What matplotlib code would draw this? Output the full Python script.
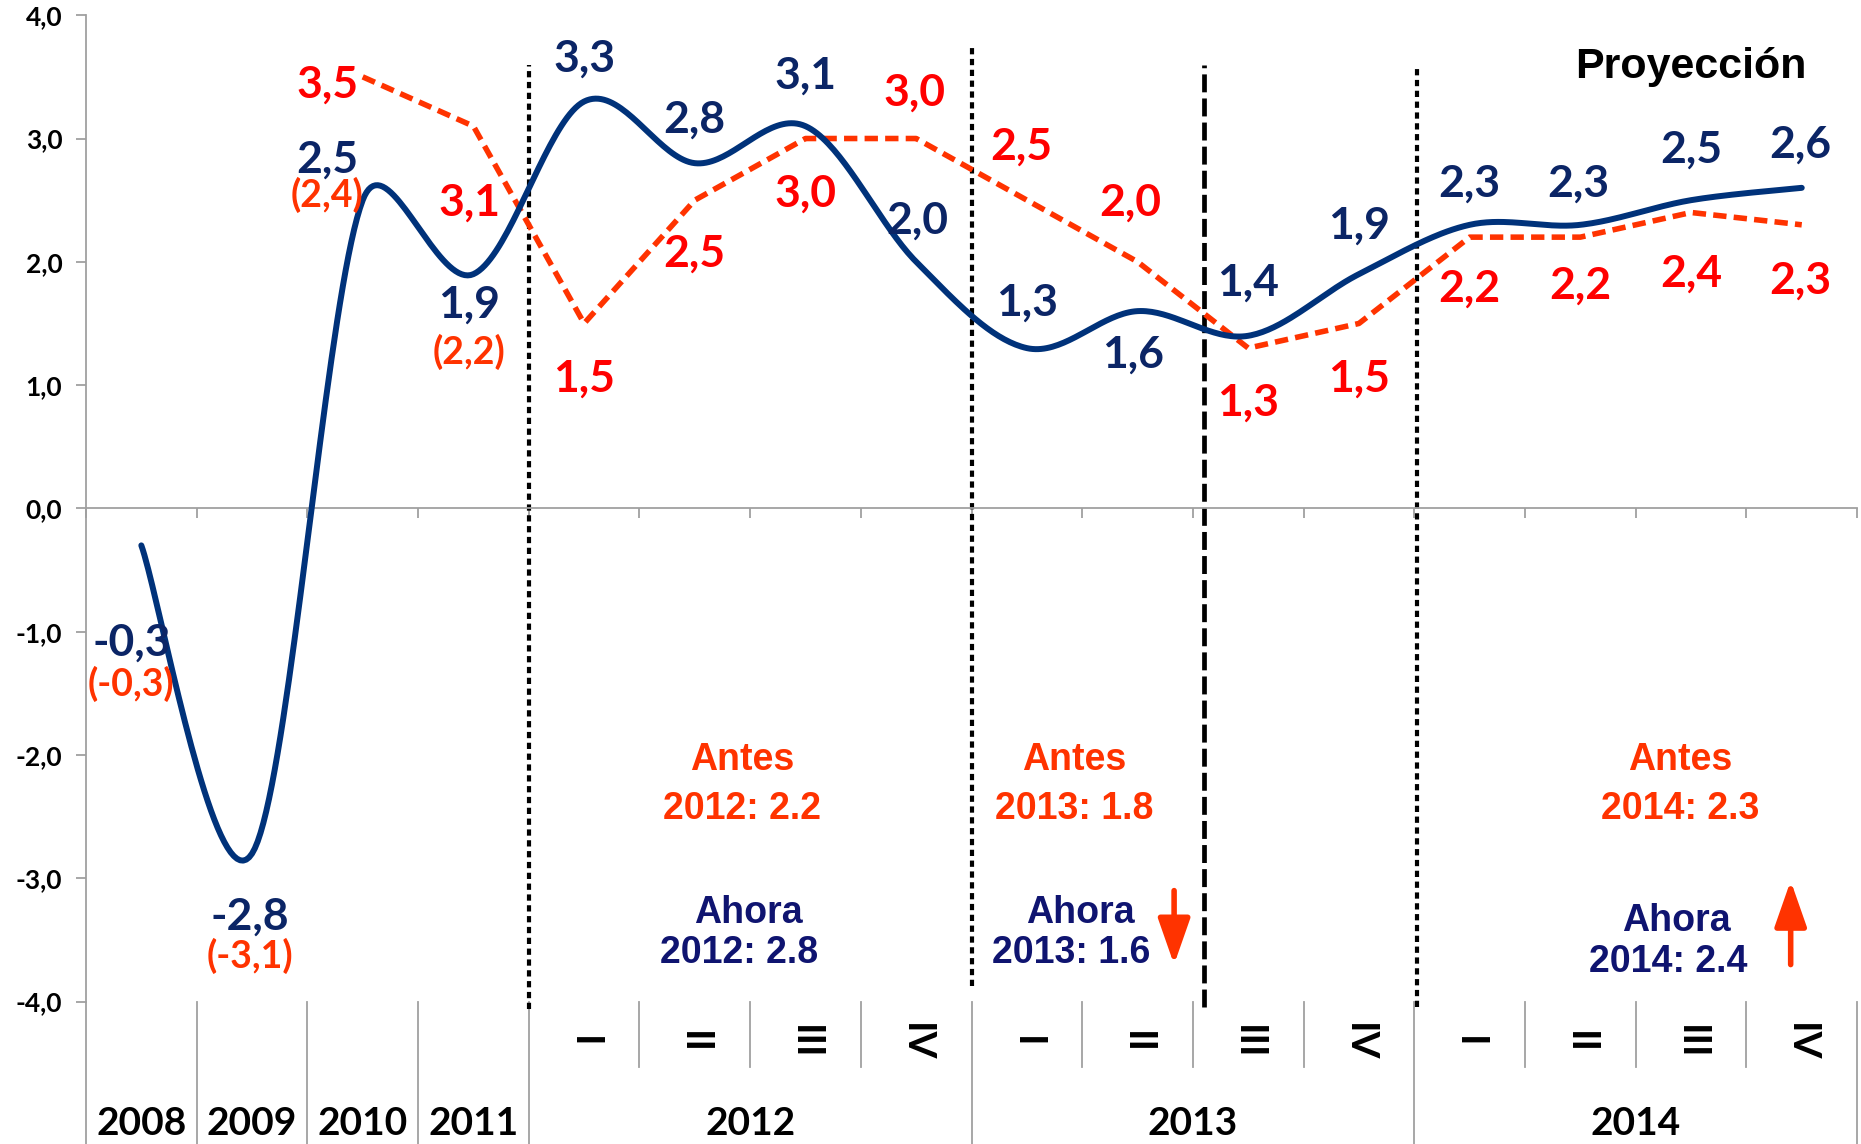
import numpy as np
import matplotlib
matplotlib.use("Agg")
import matplotlib.pyplot as plt

# Data: GDP growth, now (blue) vs previous projection (red)
periods = ["2008", "2009", "2010", "2011",
           "I", "II", "III", "IV", "I", "II", "III", "IV", "I", "II", "III", "IV"]
years = ["2008", "2009", "2010", "2011", "2012", "2013", "2014"]
ahora = [-0.3, -2.8, 2.5, 1.9, 3.3, 2.8, 3.1, 2.0, 1.3, 1.6, 1.4, 1.9, 2.3, 2.3, 2.5, 2.6]
antes = [None, None, 3.5, 3.1, 1.5, 2.5, 3.0, 3.0, 2.5, 2.0, 1.3, 1.5, 2.2, 2.2, 2.4, 2.3]
antes_anual = [-0.3, -3.1, 2.4, 2.2]   # previous estimates shown in brackets
resumen_antes = ["2012: 2.2", "2013: 1.8", "2014: 2.3"]
resumen_ahora = ["2012: 2.8", "2013: 1.6", "2014: 2.4"]

# label offsets (data units) relative to each point
blue_dx = [-0.09, -0.02, -0.32, -0.04, 0, 0, 0, 0.01, 0, -0.04, 0, 0, 0, -0.02, 0, -0.01]
blue_dy = [-0.79, -0.51, 0.33, -0.25, 0.35, 0.35, 0.41, 0.33, 0.37, -0.35, 0.43, 0.39,
           0.33, 0.33, 0.41, 0.35]
red_dx = [0, 0, -0.32, -0.04, 0, 0, 0, -0.02, -0.05, -0.07, 0, 0, 0, 0, 0, -0.01]
red_dy = [0, 0, -0.06, -0.62, -0.45, -0.43, -0.45, 0.37, 0.43, 0.48, -0.44, -0.45,
          -0.42, -0.39, -0.50, -0.45]
paren_dy = [-1.12, -0.83, 0.04, -0.63]

NAVY_LINE = "#00327A"
NAVY = "#0B2566"
NAVY2 = "#0F1470"
RED = "#FF0000"
ORANGE = "#FF3300"
GRAY = "#A0A0A0"
LABEL_FONT = ["Lato", "DejaVu Sans"]
ARIAL = ["Liberation Sans", "DejaVu Sans"]
SX, SY = 110.7, 123.3   # pixels per data unit, used for the smoothing


def smooth(xs, ys, n=40):
    # Bezier smoothing like the spreadsheet's "smoothed line"
    pts = np.column_stack([np.asarray(xs) * SX, np.asarray(ys) * SY]).astype(float)
    out = []
    for i in range(len(pts) - 1):
        p0 = pts[i - 1] if i > 0 else pts[i]
        p1 = pts[i]
        p2 = pts[i + 1]
        p3 = pts[i + 2] if i + 2 < len(pts) else pts[i + 1]
        half = np.linalg.norm(p2 - p1) / 2
        t1 = (p2 - p0) / 6
        t2 = (p3 - p1) / 6
        if np.linalg.norm(t1) > half:
            t1 = t1 * half / np.linalg.norm(t1)
        if np.linalg.norm(t2) > half:
            t2 = t2 * half / np.linalg.norm(t2)
        c1 = p1 + t1
        c2 = p2 - t2
        t = np.linspace(0, 1, n)[:, None]
        seg = (1 - t) ** 3 * p1 + 3 * (1 - t) ** 2 * t * c1 + 3 * (1 - t) * t ** 2 * c2 + t ** 3 * p2
        out.append(seg if i == 0 else seg[1:])
    out = np.vstack(out)
    return out[:, 0] / SX, out[:, 1] / SY


fig = plt.figure(figsize=(18.61, 11.44), dpi=100)
ax = fig.add_axes([0.0462, 0.1245, 0.9517, 0.8622])
x = np.arange(len(periods))
ax.set_xlim(-0.5, len(periods) - 0.5)
ax.set_ylim(-4, 4)

# axes styling
for s in ["top", "right"]:
    ax.spines[s].set_visible(False)
ax.spines["left"].set_color(GRAY)
ax.spines["left"].set_linewidth(1.3)
ax.spines["bottom"].set_position(("data", 0))
ax.spines["bottom"].set_color(GRAY)
ax.spines["bottom"].set_linewidth(1.3)
ax.set_xticks(np.arange(-0.5, len(periods), 1))
ax.set_xticklabels([])
ax.tick_params(axis="x", direction="out", length=7, width=1.3, color=GRAY)
yt = np.arange(-4, 5, 1)
ax.set_yticks(yt)
ax.set_yticklabels([f"{v:.1f}".replace(".", ",") for v in yt],
                   fontfamily=LABEL_FONT, fontweight="bold", fontsize=19)
ax.tick_params(axis="y", direction="out", length=7, width=1.3, color=GRAY, pad=10)

# category separators below the plot
trans = ax.get_xaxis_transform()
for b in np.arange(-0.5, len(periods), 1):
    full = b < 4 or b in (7.5, 11.5, 15.5)
    ax.plot([b, b], [0, -0.1444 if full else -0.0663], transform=trans,
            color=GRAY, lw=1.3, clip_on=False)
for i, lab in enumerate(periods):
    if i < 4:
        ax.text(i, -0.124, lab, transform=trans, ha="center", va="center",
                fontfamily=LABEL_FONT, fontweight="bold", fontsize=28)
    else:
        ax.text(i, -0.041, lab, transform=trans, ha="center", va="center",
                rotation=-90, fontfamily=LABEL_FONT, fontweight="bold", fontsize=28)
for j, yr in enumerate(years[4:]):
    ax.text(5.5 + 4 * j, -0.124, yr, transform=trans, ha="center", va="center",
            fontfamily=LABEL_FONT, fontweight="bold", fontsize=28)

# vertical dividers
ax.plot([3.5, 3.5], [-4.06, 3.6], color="black", lw=3.0, dashes=(1.5, 1.1), clip_on=False)
ax.plot([7.5, 7.5], [-3.87, 3.76], color="black", lw=3.0, dashes=(1.5, 1.1), clip_on=False)
ax.plot([9.6, 9.6], [-4.04, 3.6], color="black", lw=3.4, dashes=(3.8, 1.3), clip_on=False)
ax.plot([11.52, 11.52], [-4.04, 3.6], color="black", lw=3.0, dashes=(1.5, 1.1), clip_on=False)

# series
cx, cy = smooth(x, ahora)
ax.plot(cx, cy, color=NAVY_LINE, lw=4.3, solid_capstyle="round", zorder=4)
xa = [i for i, v in enumerate(antes) if v is not None]
ya = [v for v in antes if v is not None]
ax.plot(xa, ya, color=ORANGE, lw=4.0, dashes=(2.4, 1.3), zorder=3)

# data labels
for i, v in enumerate(ahora):
    ax.text(i + blue_dx[i], v + blue_dy[i], f"{v:.1f}".replace(".", ","), color=NAVY,
            ha="center", va="center", fontfamily=LABEL_FONT, fontweight="bold", fontsize=32, zorder=5)
for i, v in enumerate(antes):
    if v is None:
        continue
    ax.text(i + red_dx[i], v + red_dy[i], f"{v:.1f}".replace(".", ","), color=RED,
            ha="center", va="center", fontfamily=LABEL_FONT, fontweight="bold", fontsize=32, zorder=5)
for i, v in enumerate(antes_anual):
    ax.text(i + blue_dx[i], ahora[i] + paren_dy[i], "(" + f"{v:.1f}".replace(".", ",") + ")",
            color=ORANGE, ha="center", va="center", fontfamily=LABEL_FONT, fontweight="bold",
            fontsize=27, zorder=5)

ax.text(14.0, 3.58, "Proyección", ha="center", va="center", fontfamily=ARIAL,
        fontweight="bold", fontsize=31)

# before / now summaries
for j, xc in enumerate([5.43, 8.43, 13.9]):
    ax.text(xc, -2.04, "Antes", color=ORANGE, ha="center", va="center",
            fontfamily=ARIAL, fontweight="bold", fontsize=27)
    ax.text(xc, -2.44, resumen_antes[j], color=ORANGE, ha="center", va="center",
            fontfamily=ARIAL, fontweight="bold", fontsize=27)
ahora_y = [-3.28, -3.28, -3.35]
for j, xc in enumerate([5.45, 8.45, 13.84]):
    ax.text(xc + 0.03, ahora_y[j], "Ahora", color=NAVY2, ha="center", va="center",
            fontfamily=ARIAL, fontweight="bold", fontsize=27)
    ax.text(xc - 0.05, ahora_y[j] - 0.33, resumen_ahora[j], color=NAVY2, ha="center", va="center",
            fontfamily=ARIAL, fontweight="bold", fontsize=27)

arrow = dict(arrowstyle="-|>,head_length=1.0,head_width=0.35", color=ORANGE, lw=4,
             mutation_scale=28, shrinkA=0, shrinkB=0)
ax.annotate("", xy=(9.33, -3.7), xytext=(9.33, -3.1), arrowprops=arrow)
ax.annotate("", xy=(14.9, -3.02), xytext=(14.9, -3.7), arrowprops=arrow)

fig.savefig("out.png", dpi=100)
